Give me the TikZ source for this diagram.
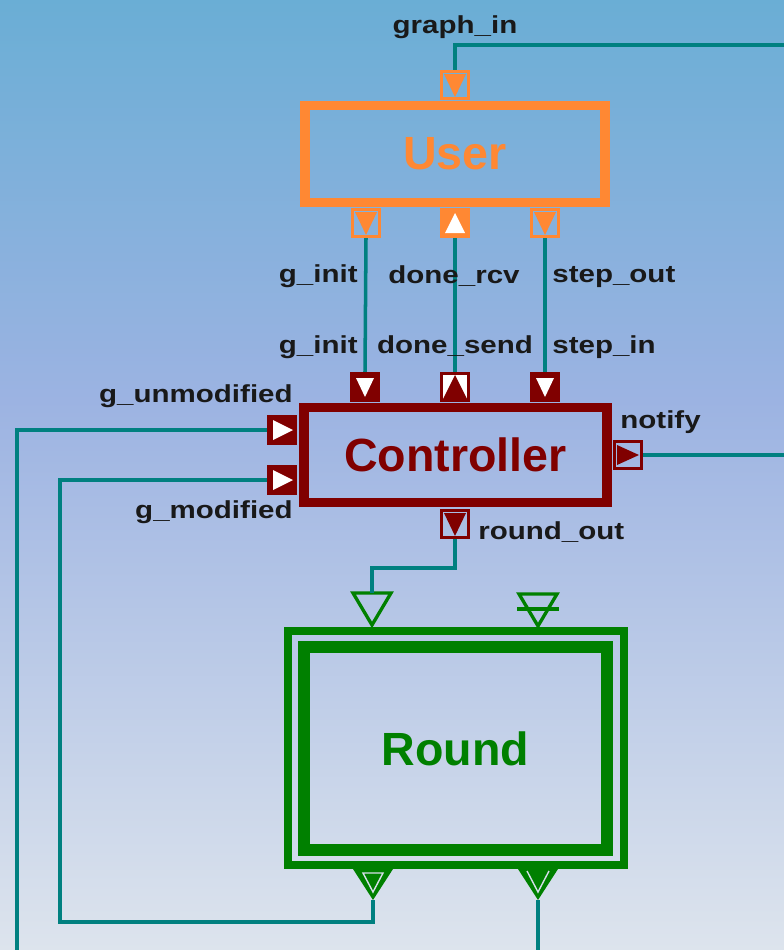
\documentclass[tikz,border=0pt]{standalone}
\usepackage{fontspec}
\setmainfont{Liberation Sans}
\newfontfamily\labelfont{Liberation Sans}[FakeStretch=1.2]
\usepackage{tikz}
\usetikzlibrary{
    calc
}
\definecolor{userorange}{RGB}{255,136,51}
\definecolor{ctrlred}{RGB}{128,0,0}
\definecolor{roundgreen}{RGB}{0,128,0}
\definecolor{wireteal}{RGB}{0,128,128}
\definecolor{bgtop}{RGB}{106,174,213}
\definecolor{bgmid}{RGB}{156,179,226}
\definecolor{bgbot}{RGB}{221,228,237}
\definecolor{bglight}{RGB}{214,222,234}

\begin{document}
\begin{tikzpicture}[x=0.02cm,y=-0.02cm,
    wire/.style={wireteal,line width=2pt},
    plabel/.style={font=\labelfont\bfseries\fontsize{14}{14}\selectfont,text=black!90,inner sep=0pt},
    title/.style={font=\bfseries\fontsize{26.5}{26.5}\selectfont,inner sep=0pt},
    portbox/.style={line width=1.9pt,minimum size=0.54cm,inner sep=0pt},
    uport/.style={portbox,draw=userorange},
    cport/.style={portbox,draw=ctrlred}]
%\draw [help lines,step=50](0,0) grid (784,950);
\useasboundingbox (0,0) rectangle (784,950);
\shade [top color=bgtop,bottom color=bgmid] (0,0) rectangle (784,400);
\shade [top color=bgmid,bottom color=bgbot] (0,400) rectangle (784,950);
% blocks
\node [title,text=userorange,draw=userorange,line width=5.67pt,minimum width=6cm,minimum height=1.94cm] (user) at (455,154) {User};
\node [title,text=ctrlred,draw=ctrlred,line width=5.67pt,minimum width=6.06cm,minimum height=1.9cm] (ctrl) at (455.5,455) {Controller};
\node [title,text=roundgreen,draw=roundgreen,line width=6.8pt,minimum width=6.06cm,minimum height=4.06cm] (round) at (455.5,748.5) {Round};
\node [draw=roundgreen,line width=4.5pt,minimum width=6.72cm,minimum height=4.68cm] (roundouter) at (456,748) {};
% user ports
\node [uport] (gin) at (455,85) {};
\node [uport] (uginit) at (366,223) {};
\node [uport,fill=userorange] (udone) at (455,223) {};
\node [uport] (ustep) at (545,223) {};
\foreach \p in {gin,uginit,ustep}
    \fill [userorange,shift={(\p)}] (-11,-11) -- (11,-11) -- (0,12) -- cycle;
\fill [white,shift={(udone)}] (-10,10) -- (10,10) -- (0,-10) -- cycle;
% controller ports
\node [cport,fill=ctrlred] (cginit) at (365,387) {};
\node [cport,fill=white] (cdone) at (455,387) {};
\node [cport,fill=ctrlred] (cstep) at (545,387) {};
\node [cport,fill=ctrlred] (cunmod) at (282,430) {};
\node [cport,fill=ctrlred] (cmod) at (282,480) {};
\node [cport] (cnotify) at (628,455) {};
\node [cport] (cround) at (455,524) {};
\foreach \p in {cginit,cstep}
    \fill [white,shift={(\p)}] (-9,-9) -- (9,-9) -- (0,10) -- cycle;
\fill [ctrlred,shift={(cdone)}] (-12,12) -- (12,12) -- (0,-12) -- cycle;
\foreach \p in {cunmod,cmod}
    \fill [white,shift={(\p)}] (-9,-10) -- (-9,10) -- (11,0) -- cycle;
\fill [ctrlred,shift={(cnotify)}] (-11,-10) -- (-11,10) -- (11,0) -- cycle;
\fill [ctrlred,shift={(cround)}] (-11,-11) -- (11,-11) -- (0,12) -- cycle;
% round ports
\coordinate (rtl) at (372,593);
\coordinate (rtr) at (538,594);
\coordinate (rbl) at (373,900);
\coordinate (rbr) at (538,900);
\draw [roundgreen,line width=1.9pt,line join=miter,shift={(rtl)}] (-19,0) -- (19,0) -- (0,32) -- cycle;
\draw [roundgreen,line width=1.9pt,line join=miter,shift={(rtr)}] (-19,0) -- (19,0) -- (0,32) -- cycle;
\draw [roundgreen,line width=1.9pt,shift={(rtr)}] (-21,15) -- (21,15);
\fill [roundgreen,shift={(rbl)}] (-20,-31) -- (20,-31) -- (0,0) -- cycle;
\fill [roundgreen,shift={(rbr)}] (-20,-31) -- (20,-31) -- (0,0) -- cycle;
\draw [bglight,line width=0.8pt,shift={(rbl)}] (-10,-27) -- (10,-27) -- (0,-8) -- cycle;
\draw [bglight,line width=0.8pt,shift={(rbr)}] (-11,-29) -- (0,-8) -- (11,-29);
% free ends
\coordinate (gin-end) at (784,45);
\coordinate (notify-end) at (784,455);
\coordinate (unmod-end) at (17,950);
\coordinate (rbr-end) at (538,950);
% wires
\draw [wire] (gin.north) |- (gin-end);
\draw [wire] (uginit.south) -- (cginit.north);
\draw [wire] (udone.south) -- (cdone.north);
\draw [wire] (ustep.south) -- (cstep.north);
\draw [wire] (cunmod.west) -| (unmod-end);
\draw [wire] (cnotify.east) -- (notify-end);
\draw [wire] (cround.south) |- (372,568) -- (rtl);
\draw [wire] (rbl) |- (60,922) |- (cmod.west);
\draw [wire] (rbr) -- (rbr-end);
% labels
\node [plabel,anchor=base] (l-gin) at (455,33) {graph\_in};
\node [plabel,anchor=base east] (l-uginit) at (358,282) {g\_init};
\node [plabel,anchor=base] (l-udone) at (454,283) {done\_rcv};
\node [plabel,anchor=base west] (l-ustep) at (552,282) {step\_out};
\node [plabel,anchor=base east] (l-cginit) at (358,353) {g\_init};
\node [plabel,anchor=base] (l-cdone) at (455,353) {done\_send};
\node [plabel,anchor=base west] (l-cstep) at (552,353) {step\_in};
\node [plabel,anchor=base east] (l-cunmod) at (293,402) {g\_unmodified};
\node [plabel,anchor=base east] (l-cmod) at (293,518) {g\_modified};
\node [plabel,anchor=base west] (l-cnotify) at (620,428) {notify};
\node [plabel,anchor=base west] (l-cround) at (478,539) {round\_out};
\end{tikzpicture}
\end{document}
